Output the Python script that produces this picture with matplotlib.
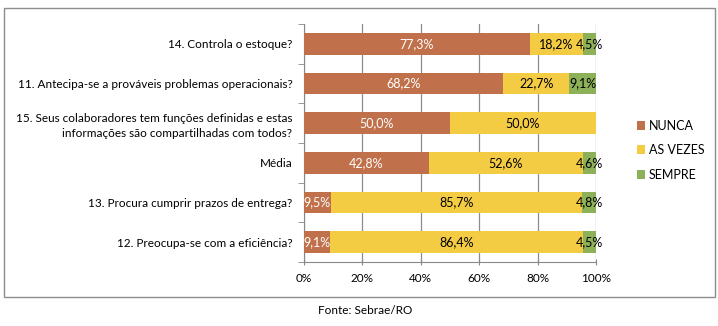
import numpy as np
import matplotlib.pyplot as plt
from matplotlib.patches import Rectangle

plt.rcParams['font.family'] = ['Lato', 'DejaVu Sans']

# dados (percentuais)
perguntas = ["14. Controla o estoque?",
             "11. Antecipa-se a prováveis problemas operacionais?",
             "15. Seus colaboradores tem funções definidas e estas\ninformações são compartilhadas com todos?",
             "Média",
             "13. Procura cumprir prazos de entrega?",
             "12. Preocupa-se com a eficiência?"]
nunca = [77.3, 68.2, 50.0, 42.8, 9.5, 9.1]
as_vezes = [18.2, 22.7, 50.0, 52.6, 85.7, 86.4]
sempre = [4.5, 9.1, 0.0, 4.6, 4.8, 4.5]

series = [("NUNCA", nunca, "#C0704A", "white"),
          ("AS VEZES", as_vezes, "#F4CC44", "black"),
          ("SEMPRE", sempre, "#8DB158", "black")]

fig = plt.figure(figsize=(7.18, 3.26), dpi=100)
ax = fig.add_axes([303.5/718, 1-262/326, 292.5/718, 238/326])

# moldura do gráfico
fig.patches.append(Rectangle((4/718, 1-297/326), 711/718, 289/326,
                             transform=fig.transFigure, fill=False,
                             edgecolor="#8C8C8C", linewidth=1))

y = np.arange(len(perguntas))
left = np.zeros(len(perguntas))
for nome, vals, cor, cor_txt in series:
    vals = np.array(vals)
    ax.barh(y, vals, left=left, height=0.54, color=cor, label=nome, zorder=3)
    for yi, l, v in zip(y, left, vals):
        if v > 0:
            ax.text(l + v/2, yi, ("%.1f%%" % v).replace(".", ","),
                    ha="center", va="center", color=cor_txt, fontsize=9, zorder=4)
    left += vals

ax.set_xlim(0, 100)
ax.set_ylim(len(perguntas) - 0.5, -0.5)
ax.set_xticks(np.arange(0, 101, 20))
ax.set_xticklabels(["%d%%" % v for v in range(0, 101, 20)], fontsize=8.5)
ax.set_yticks(y)
ax.set_yticklabels(perguntas, fontsize=8.5, linespacing=1.4)
ax.set_yticks(np.arange(-0.5, len(perguntas)), minor=True)
ax.tick_params(axis="y", which="major", length=0, pad=8)
ax.tick_params(axis="y", which="minor", length=4, color="#888888")
ax.tick_params(axis="x", length=4, color="#888888", direction="inout", pad=6)
ax.grid(axis="x", color="#8C8C8C", linewidth=0.9, zorder=0)
for s in ["top", "right"]:
    ax.spines[s].set_visible(False)
for s in ["left", "bottom"]:
    ax.spines[s].set_color("#888888")

leg = ax.legend(loc="center left", bbox_to_anchor=(1.1, 0.47), frameon=False,
                fontsize=9, handlelength=0.7, handleheight=0.7,
                handletextpad=0.3, labelspacing=1.0)

fig.text(365/718, 1-311/326, "Fonte: Sebrae/RO", ha="center", va="center", fontsize=8.5)

fig.savefig("out.png", dpi=100)
